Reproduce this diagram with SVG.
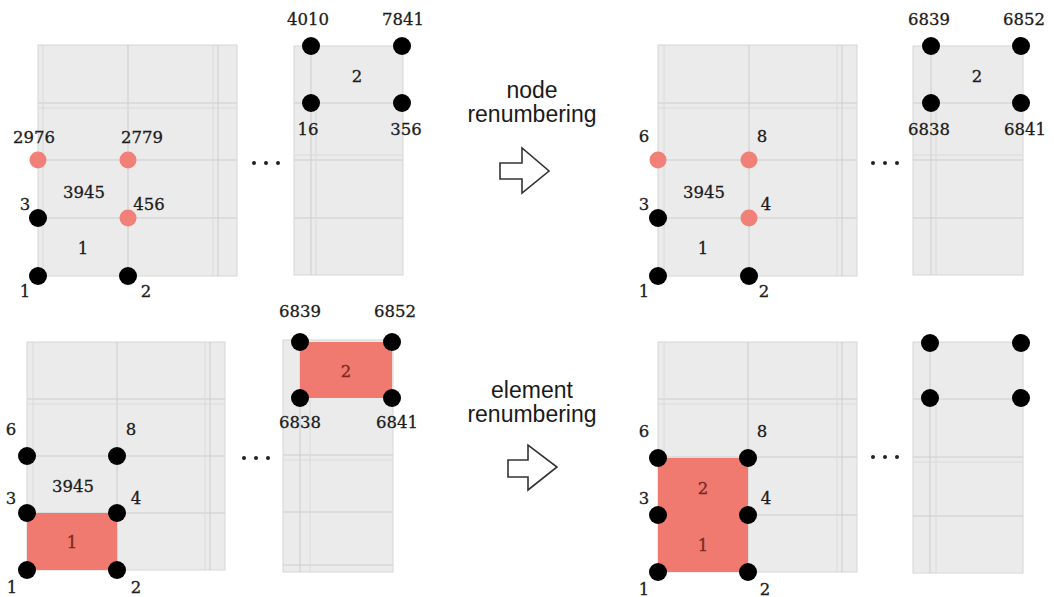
<svg xmlns="http://www.w3.org/2000/svg" width="1054" height="597" viewBox="0 0 1054 597">
  <style>
    .panel { fill: #ebebeb; stroke: #d6d6d6; stroke-width: 1; }
    .grid { stroke: #cdcdcd; stroke-width: 1; fill: none; }
    .gridf { stroke: #dadada; stroke-width: 1; fill: none; }
    .nd { fill: #000000; }
    .nd-hl { fill: #f08078; }
    .elem-hl { fill: #f07a70; }
    .lbl { font-family: 'DejaVu Serif', serif; font-size: 16.5px; fill: #1c1c1c; stroke: #1c1c1c; stroke-width: 0.3; text-anchor: middle; }
    .elbl { font-family: 'DejaVu Serif', serif; font-size: 16.5px; fill: #7a2a22; stroke: #7a2a22; stroke-width: 0.3; text-anchor: middle; }
    .cap { font-family: 'Liberation Sans', Arial, sans-serif; font-size: 23px; fill: #1a1a1a; text-anchor: middle; }
    .blk { fill: #ffffff; stroke: #333333; stroke-width: 1.6; stroke-linejoin: miter; }
    .dot { fill: #222222; }
  </style>

  <!-- ===================== top row: before node renumbering ===================== -->
  <g id="mesh-a-before">
    <rect class="panel" x="38" y="45" width="199" height="231"/>
    <path class="grid" d="M128 45V276M218 45V276M38 103H237M38 160H237M38 218H237"/>
    <path class="gridf" d="M43 45V276M213 45V276M38 108H237"/>
    <g id="a-n2976"><circle class="nd-hl" cx="38" cy="160" r="8.5"/><text class="lbl" x="34" y="143">2976</text></g>
    <g id="a-n2779"><circle class="nd-hl" cx="128" cy="160" r="8.5"/><text class="lbl" x="142" y="143">2779</text></g>
    <g id="a-n3"><circle class="nd" cx="38" cy="218" r="9"/><text class="lbl" x="25" y="210">3</text></g>
    <g id="a-n456"><circle class="nd-hl" cx="128" cy="218" r="8.5"/><text class="lbl" x="149" y="210">456</text></g>
    <g id="a-n1"><circle class="nd" cx="38" cy="276" r="9"/><text class="lbl" x="25" y="297">1</text></g>
    <g id="a-n2"><circle class="nd" cx="128" cy="276" r="9"/><text class="lbl" x="146" y="297">2</text></g>
    <g id="a-e3945"><text class="lbl" x="84" y="198">3945</text></g>
    <g id="a-e1"><text class="lbl" x="83" y="254">1</text></g>
  </g>
  <g id="gap-a"><circle class="dot" cx="254" cy="163" r="2"/><circle class="dot" cx="266" cy="163" r="2"/><circle class="dot" cx="278" cy="163" r="2"/></g>

  <g id="mesh-b-before">
    <rect class="panel" x="294" y="46" width="109" height="229"/>
    <path class="grid" d="M311 46V275M294 103H403M294 160H403M294 218H403"/>
    <path class="gridf" d="M316 103V275M294 155H403"/>
    <g id="b-n4010"><circle class="nd" cx="311" cy="46" r="9"/><text class="lbl" x="308" y="25">4010</text></g>
    <g id="b-n7841"><circle class="nd" cx="402" cy="46" r="9"/><text class="lbl" x="403" y="25">7841</text></g>
    <g id="b-n16"><circle class="nd" cx="311" cy="103" r="9"/><text class="lbl" x="308" y="135">16</text></g>
    <g id="b-n356"><circle class="nd" cx="402" cy="103" r="9"/><text class="lbl" x="406" y="135">356</text></g>
    <g id="b-e2"><text class="lbl" x="357" y="82">2</text></g>
  </g>

  <!-- ===================== top row: after node renumbering ===================== -->
  <g id="mesh-a-nodes">
    <rect class="panel" x="658" y="45" width="199" height="231"/>
    <path class="grid" d="M749 45V276M842 45V276M658 103H857M658 160H857M658 218H857"/>
    <path class="gridf" d="M664 45V276M837 45V276M658 108H857"/>
    <g id="c-n6"><circle class="nd-hl" cx="658" cy="160" r="8.5"/><text class="lbl" x="644" y="142">6</text></g>
    <g id="c-n8"><circle class="nd-hl" cx="749" cy="160" r="8.5"/><text class="lbl" x="762" y="142">8</text></g>
    <g id="c-n3"><circle class="nd" cx="658" cy="218" r="9"/><text class="lbl" x="644" y="210">3</text></g>
    <g id="c-n4"><circle class="nd-hl" cx="749" cy="218" r="8.5"/><text class="lbl" x="766" y="210">4</text></g>
    <g id="c-n1"><circle class="nd" cx="658" cy="276" r="9"/><text class="lbl" x="644" y="297">1</text></g>
    <g id="c-n2"><circle class="nd" cx="749" cy="276" r="9"/><text class="lbl" x="764" y="297">2</text></g>
    <g id="c-e3945"><text class="lbl" x="704" y="198">3945</text></g>
    <g id="c-e1"><text class="lbl" x="703" y="254">1</text></g>
  </g>
  <g id="gap-c"><circle class="dot" cx="873" cy="163" r="2"/><circle class="dot" cx="885" cy="163" r="2"/><circle class="dot" cx="897" cy="163" r="2"/></g>

  <g id="mesh-b-nodes">
    <rect class="panel" x="913" y="46" width="110" height="229"/>
    <path class="grid" d="M931 46V275M913 103H1023M913 160H1023M913 218H1023"/>
    <path class="gridf" d="M936 103V275M913 155H1023"/>
    <g id="d-n6839"><circle class="nd" cx="931" cy="46" r="9"/><text class="lbl" x="929" y="25">6839</text></g>
    <g id="d-n6852"><circle class="nd" cx="1021" cy="46" r="9"/><text class="lbl" x="1024" y="25">6852</text></g>
    <g id="d-n6838"><circle class="nd" cx="931" cy="103" r="9"/><text class="lbl" x="929" y="135">6838</text></g>
    <g id="d-n6841"><circle class="nd" cx="1021" cy="103" r="9"/><text class="lbl" x="1025" y="135">6841</text></g>
    <g id="d-e2"><text class="lbl" x="977" y="82">2</text></g>
  </g>

  <!-- ===================== bottom row: before element renumbering ===================== -->
  <g id="mesh-a-elems-before">
    <rect class="panel" x="27" y="342" width="198" height="228"/>
    <path class="grid" d="M117 342V570M210 342V570M27 399H225M27 456H225M27 513H225"/>
    <path class="gridf" d="M33 342V570M205 342V570M27 404H225"/>
    <rect class="elem-hl" x="27" y="513" width="90" height="57"/>
    <g id="e-n6"><circle class="nd" cx="27" cy="456" r="9"/><text class="lbl" x="11" y="435">6</text></g>
    <g id="e-n8"><circle class="nd" cx="117" cy="456" r="9"/><text class="lbl" x="131" y="435">8</text></g>
    <g id="e-n3"><circle class="nd" cx="27" cy="513" r="9"/><text class="lbl" x="11" y="504">3</text></g>
    <g id="e-n4"><circle class="nd" cx="117" cy="513" r="9"/><text class="lbl" x="136" y="504">4</text></g>
    <g id="e-n1"><circle class="nd" cx="27" cy="570" r="9"/><text class="lbl" x="12" y="593">1</text></g>
    <g id="e-n2"><circle class="nd" cx="117" cy="570" r="9"/><text class="lbl" x="136" y="593">2</text></g>
    <g id="e-e3945"><text class="lbl" x="73" y="492">3945</text></g>
    <g id="e-e1"><text class="elbl" x="72" y="548">1</text></g>
  </g>
  <g id="gap-e"><circle class="dot" cx="244" cy="458" r="2"/><circle class="dot" cx="256" cy="458" r="2"/><circle class="dot" cx="268" cy="458" r="2"/></g>

  <g id="mesh-b-elems-before">
    <rect class="panel" x="283" y="340" width="110" height="232"/>
    <path class="grid" d="M300 340V572M283 455H393M283 512H393M283 565H393"/>
    <path class="gridf" d="M310 398V572M283 460H393"/>
    <rect class="elem-hl" x="300" y="342" width="92" height="56"/>
    <g id="f-n6839"><circle class="nd" cx="300" cy="342" r="9"/><text class="lbl" x="300" y="317">6839</text></g>
    <g id="f-n6852"><circle class="nd" cx="392" cy="342" r="9"/><text class="lbl" x="395" y="317">6852</text></g>
    <g id="f-n6838"><circle class="nd" cx="300" cy="398" r="9"/><text class="lbl" x="300" y="428">6838</text></g>
    <g id="f-n6841"><circle class="nd" cx="392" cy="398" r="9"/><text class="lbl" x="397" y="428">6841</text></g>
    <g id="f-e2"><text class="elbl" x="346" y="377">2</text></g>
  </g>

  <!-- ===================== bottom row: after element renumbering ===================== -->
  <g id="mesh-a-elems">
    <rect class="panel" x="658" y="342" width="199" height="230"/>
    <path class="grid" d="M748 342V572M842 342V572M658 399H857M658 457H857M658 515H857"/>
    <path class="gridf" d="M664 342V572M837 342V572M658 404H857"/>
    <rect class="elem-hl" x="658" y="458" width="90" height="114"/>
    <g id="g-n6"><circle class="nd" cx="658" cy="458" r="9"/><text class="lbl" x="644" y="437">6</text></g>
    <g id="g-n8"><circle class="nd" cx="748" cy="458" r="9"/><text class="lbl" x="762" y="437">8</text></g>
    <g id="g-n3"><circle class="nd" cx="658" cy="515" r="9"/><text class="lbl" x="644" y="504">3</text></g>
    <g id="g-n4"><circle class="nd" cx="748" cy="515" r="9"/><text class="lbl" x="766" y="504">4</text></g>
    <g id="g-n1"><circle class="nd" cx="658" cy="572" r="9"/><text class="lbl" x="644" y="595">1</text></g>
    <g id="g-n2"><circle class="nd" cx="748" cy="572" r="9"/><text class="lbl" x="765" y="595">2</text></g>
    <g id="g-e2"><text class="elbl" x="703" y="494">2</text></g>
    <g id="g-e1"><text class="elbl" x="703" y="551">1</text></g>
  </g>
  <g id="gap-g"><circle class="dot" cx="873" cy="457" r="2"/><circle class="dot" cx="885" cy="457" r="2"/><circle class="dot" cx="897" cy="457" r="2"/></g>

  <g id="mesh-b-elems">
    <rect class="panel" x="913" y="342" width="110" height="231"/>
    <path class="grid" d="M930 342V573M913 399H1023M913 457H1023M913 516H1023"/>
    <path class="gridf" d="M936 399V573M913 462H1023"/>
    <g id="h-n1"><circle class="nd" cx="930" cy="343" r="9"/></g>
    <g id="h-n2"><circle class="nd" cx="1021" cy="343" r="9"/></g>
    <g id="h-n3"><circle class="nd" cx="930" cy="398" r="9"/></g>
    <g id="h-n4"><circle class="nd" cx="1021" cy="398" r="9"/></g>
  </g>

  <!-- ===================== transition arrows ===================== -->
  <g id="connectors">
    <g id="step-node">
      <text class="cap" x="532" y="98">node</text>
      <text class="cap" x="532" y="122">renumbering</text>
      <path class="blk" d="M500 163H522V148L549 171L522 193V179H500Z"/>
    </g>
    <g id="step-element">
      <text class="cap" x="532" y="398">element</text>
      <text class="cap" x="532" y="422">renumbering</text>
      <path class="blk" d="M508 460H528V445L557 467L528 490V477H508Z"/>
    </g>
  </g>
</svg>
